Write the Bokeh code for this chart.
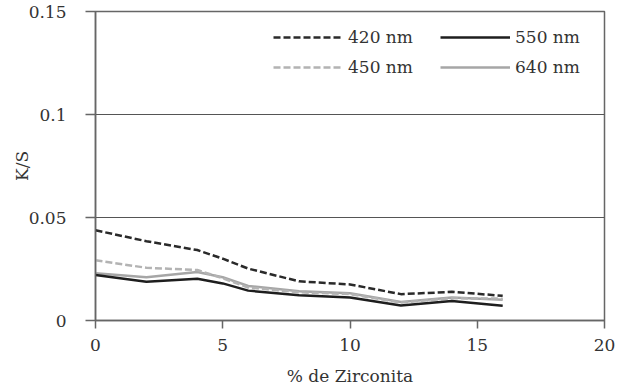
from bokeh.plotting import figure
from bokeh.models import Legend, LegendItem, FixedTicker
from bokeh.embed import file_html
from bokeh.resources import INLINE

zirc = [0, 2, 4, 5, 6, 8, 10, 12, 14, 16]
ks_420 = [0.0438, 0.0385, 0.0342, 0.0300, 0.0252, 0.0190, 0.0175, 0.0128, 0.0139, 0.0120]
ks_450 = [0.0292, 0.0256, 0.0245, 0.0205, 0.0160, 0.0137, 0.0128, 0.0087, 0.0108, 0.0106]
ks_550 = [0.0221, 0.0188, 0.0203, 0.0180, 0.0145, 0.0122, 0.0112, 0.0073, 0.0095, 0.0072]
ks_640 = [0.0229, 0.0210, 0.0235, 0.0210, 0.0168, 0.0142, 0.0132, 0.0090, 0.0112, 0.0101]
x_ticks = [0, 5, 10, 15, 20]
y_ticks = [0, 0.05, 0.1, 0.15]
y_tick_labels = ["0", "0.05", "0.1", "0.15"]

FONT = "DejaVu Serif"
FS = "17px"

p = figure(width=617, height=388, x_range=(0, 20), y_range=(0, 0.15),
           output_backend="svg", toolbar_location=None,
           min_border_left=95, min_border_right=13, min_border_top=11, min_border_bottom=68)
p.outline_line_color = "#666666"
p.outline_line_width = 1.5

p.xgrid.grid_line_color = None
p.ygrid.grid_line_color = "#555555"
p.ygrid.grid_line_width = 1
p.ygrid.ticker = FixedTicker(ticks=y_ticks)

for ax in (p.xaxis[0], p.yaxis[0]):
    ax.axis_line_color = "#666666"
    ax.axis_line_width = 1.5
    ax.major_tick_line_color = "#666666"
    ax.major_tick_line_width = 1.5
    ax.major_tick_in = 0
    ax.minor_tick_line_color = None
    ax.major_label_text_font = FONT
    ax.major_label_text_font_size = FS
    ax.major_label_text_color = "#333333"
    ax.axis_label_text_font = FONT
    ax.axis_label_text_font_size = FS
    ax.axis_label_text_font_style = "normal"
    ax.axis_label_text_color = "#333333"

p.xaxis.ticker = FixedTicker(ticks=x_ticks)
p.xaxis.major_tick_out = 8
p.xaxis.major_label_standoff = 10
p.xaxis.axis_label = "% de Zirconita"
p.xaxis.axis_label_standoff = 12

p.yaxis.ticker = FixedTicker(ticks=y_ticks)
p.yaxis.major_label_overrides = {t: l for t, l in zip(y_ticks, y_tick_labels)}
p.yaxis.major_tick_out = 10
p.yaxis.major_label_standoff = 19
p.yaxis.axis_label = "K/S"
p.yaxis.axis_label_standoff = -6

r640 = p.line(zirc, ks_640, line_color="#a6a6a6", line_width=2.5)
r450 = p.line(zirc, ks_450, line_color="#b3b3b3", line_width=2.5, line_dash="7 3")
r550 = p.line(zirc, ks_550, line_color="#1e1e1e", line_width=2.5)
r420 = p.line(zirc, ks_420, line_color="#2a2a2a", line_width=2.5, line_dash="7 3")

def make_legend(items, x, y):
    lg = Legend(items=items, location=(x, y), padding=0, margin=0,
                border_line_alpha=0, background_fill_alpha=0,
                glyph_width=70, glyph_height=20, label_height=20, spacing=10,
                label_standoff=5, label_text_font=FONT, label_text_font_size=FS,
                label_text_color="#333333")
    return lg

leg1 = make_legend([LegendItem(label="420 nm", renderers=[r420]),
                    LegendItem(label="450 nm", renderers=[r450])], 178, 243)
leg2 = make_legend([LegendItem(label="550 nm", renderers=[r550]),
                    LegendItem(label="640 nm", renderers=[r640])], 345, 243)
p.add_layout(leg1)
p.add_layout(leg2)

open("out.html", "w").write(file_html(p, INLINE))
